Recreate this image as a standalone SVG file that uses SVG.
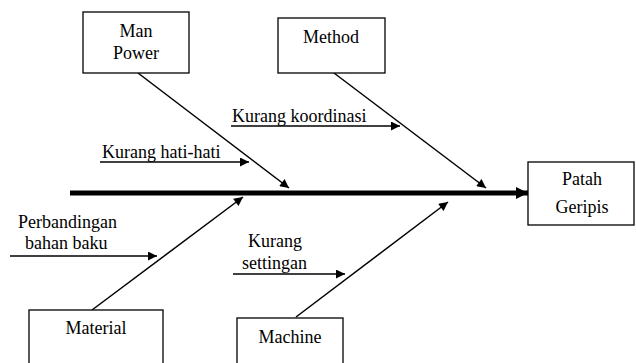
<svg xmlns="http://www.w3.org/2000/svg" width="636" height="363" viewBox="0 0 636 363">
<style>
.box{fill:#fff;stroke:#000;stroke-width:1.3}
.c{text-anchor:middle}
.ln{stroke:#000;stroke-width:1.5;fill:none}
.spine{stroke:#000;stroke-width:5;fill:none}
</style>
<defs>
<marker id="ah" viewBox="0 0 10 10" refX="10" refY="5" markerWidth="11" markerHeight="9" markerUnits="userSpaceOnUse" orient="auto"><path d="M0,0 L10,5 L0,10 z" fill="#000"/></marker>
<marker id="ahb" viewBox="0 0 10 10" refX="10" refY="5" markerWidth="13" markerHeight="12" markerUnits="userSpaceOnUse" orient="auto"><path d="M0,0 L10,5 L0,10 z" fill="#000"/></marker>
</defs>
<g id="connectors">
<line class="spine" x1="70" y1="193" x2="528" y2="193" marker-end="url(#ahb)"/>
<line class="ln" x1="138" y1="73" x2="289" y2="188" marker-end="url(#ah)"/>
<line class="ln" x1="334" y1="73" x2="486" y2="188" marker-end="url(#ah)"/>
<line class="ln" x1="92" y1="310" x2="243" y2="197" marker-end="url(#ah)"/>
<line class="ln" x1="296" y1="317" x2="448" y2="202" marker-end="url(#ah)"/>
<line class="ln" x1="231" y1="126" x2="400" y2="126" marker-end="url(#ah)"/>
<line class="ln" x1="100" y1="162" x2="249" y2="162" marker-end="url(#ah)"/>
<line class="ln" x1="10" y1="256" x2="157" y2="256" marker-end="url(#ah)"/>
<line class="ln" x1="233" y1="274" x2="345" y2="274" marker-end="url(#ah)"/>
</g>
<g font-family="Liberation Serif" font-size="18" fill="#000">
<g id="man-power"><rect class="box" x="83" y="12" width="106" height="61"/><text class="c" x="136" y="37">Man</text><text class="c" x="136" y="59">Power</text></g>
<g id="method"><rect class="box" x="278" y="18" width="107" height="55"/><text class="c" x="331" y="43">Method</text></g>
<g id="patah-geripis"><rect class="box" x="528" y="162" width="106" height="63"/><text class="c" x="582" y="185">Patah</text><text class="c" x="582" y="213">Geripis</text></g>
<g id="material"><rect class="box" x="29" y="310" width="134" height="60"/><text class="c" x="96" y="334">Material</text></g>
<g id="machine"><rect class="box" x="237" y="318" width="106" height="52"/><text class="c" x="290" y="343">Machine</text></g>
<g id="kurang-koordinasi"><text x="232" y="122">Kurang koordinasi</text></g>
<g id="kurang-hati-hati"><text x="102" y="158">Kurang hati-hati</text></g>
<g id="perbandingan"><text x="18" y="228">Perbandingan</text><text x="25" y="249">bahan baku</text></g>
<g id="kurang-settingan"><text x="248" y="247">Kurang</text><text x="242" y="269">settingan</text></g>
</g>
</svg>
